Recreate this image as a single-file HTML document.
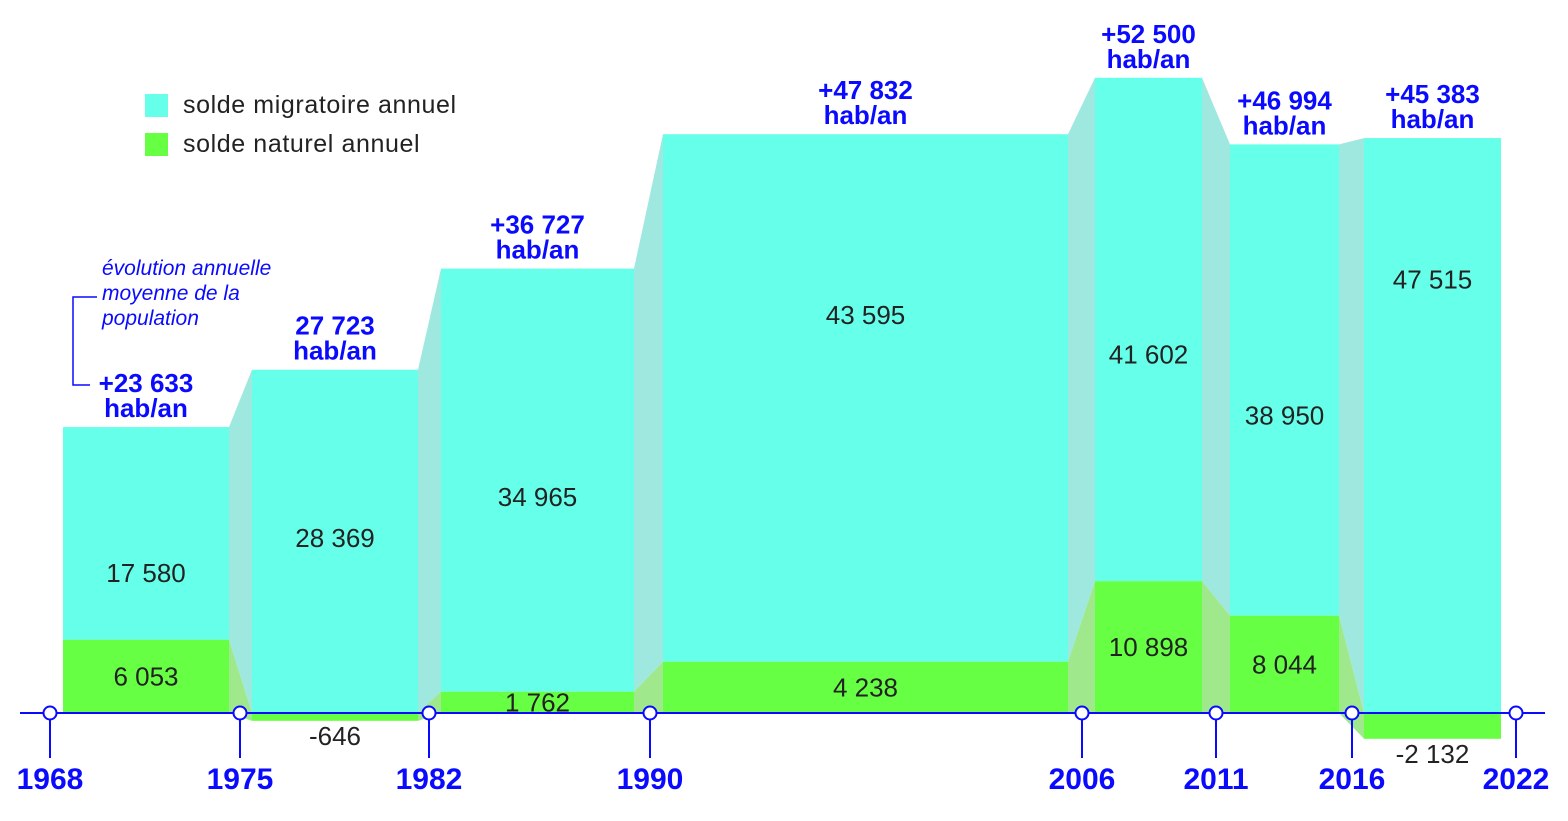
<!DOCTYPE html>
<html><head><meta charset="utf-8"><style>
html,body{margin:0;padding:0;background:#fff;width:1568px;height:821px;overflow:hidden}
svg{display:block;font-family:"Liberation Sans",sans-serif}
</style></head><body>
<svg id="chart" width="1568" height="821">
<g>
<rect x="145" y="94" width="23" height="23" fill="#66ffea"/>
<text x="183" y="113" font-size="25" letter-spacing="0.6" fill="#222">solde migratoire annuel</text>
<rect x="145" y="133" width="23" height="23" fill="#66ff44"/>
<text x="183" y="152" font-size="25" letter-spacing="0.6" fill="#222">solde naturel annuel</text>
</g>
<g fill="#0a0aff" font-size="21" font-style="italic">
<text x="102" y="275">évolution annuelle</text>
<text x="102" y="300">moyenne de la</text>
<text x="102" y="325">population</text>
<path d="M97 297 H73 V385 H90" fill="none" stroke="#0a0aff" stroke-width="1.5"/>
</g>
<g id="marks"></g>
<g id="axis"></g>
</svg>
<script>
const years = [1968, 1975, 1982, 1990, 2006, 2011, 2016, 2022];
const migratoire = [17580, 28369, 34965, 43595, 41602, 38950, 47515];
const naturel = [6053, -646, 1762, 4238, 10898, 8044, -2132];
const totals = ["+23 633", "27 723", "+36 727", "+47 832", "+52 500", "+46 994", "+45 383"];
const migLabels = ["17 580", "28 369", "34 965", "43 595", "41 602", "38 950", "47 515"];
const natLabels = ["6 053", "-646", "1 762", "4 238", "10 898", "8 044", "-2 132"];

const NS = "http://www.w3.org/2000/svg";
const base = 713, k = 0.0121;
const y = v => base - v * k;
const yearX = {1968:50,1975:240,1982:429,1990:650,2006:1082,2011:1216,2016:1352,2022:1516};
const xOf = yr => yearX[yr];
// style: left/right insets from year markers, and vertical label placement within cyan segment
const insetL = [13, 12, 12, 13, 13, 14, 12];
const insetR = [11, 11, 16, 14, 14, 13, 15];
const labelFrac = [0.685, 0.49, 0.54, 0.343, 0.55, 0.575, 0.246];
function el(tag, attrs, parent){const e=document.createElementNS(NS,tag);for(const a in attrs)e.setAttribute(a,attrs[a]);parent.appendChild(e);return e;}
const marks = document.getElementById('marks');
const axis = document.getElementById('axis');
const bars = [];
for (let i=0;i<migratoire.length;i++){
  const x1 = xOf(years[i]) + insetL[i], x2 = xOf(years[i+1]) - insetR[i];
  const n = naturel[i], m = migratoire[i];
  const gTop = y(Math.max(n,0)), gBot = y(Math.min(n,0));
  const cBot = y(Math.max(n,0)), cTop = y(Math.max(n,0)+m);
  bars.push({x1,x2,gTop,gBot,cBot,cTop});
}
for (let i=0;i<bars.length-1;i++){
  const a=bars[i], b=bars[i+1];
  let p=el('polygon',{points:`${a.x2},${a.cTop} ${b.x1},${b.cTop} ${b.x1},${b.cBot} ${a.x2},${a.cBot}`,fill:'#9ee8df'},marks);
  
  
  p=el('polygon',{points:`${a.x2},${a.gTop} ${b.x1},${b.gTop} ${b.x1},${b.gBot} ${a.x2},${a.gBot}`,fill:'#a0e88c'},marks);
  
  
}
bars.forEach((b,i)=>{
  let r=el('rect',{x:b.x1,y:b.cTop,width:b.x2-b.x1,height:b.cBot-b.cTop,fill:'#66ffea'},marks);
  
  
  r=el('rect',{x:b.x1,y:b.gTop,width:b.x2-b.x1,height:b.gBot-b.gTop,fill:'#66ff44'},marks);
  
  
  const cx=(b.x1+b.x2)/2;
  let t=el('text',{x:cx,y:b.cTop+(b.cBot-b.cTop)*labelFrac[i]+9,'text-anchor':'middle','font-size':26,fill:'#222'},marks);
  t.textContent=migLabels[i];
  
  
  const ny = naturel[i]<0 ? b.gBot+24 : (b.gTop+b.gBot)/2+9;
  t=el('text',{x:cx,y:ny,'text-anchor':'middle','font-size':26,fill:'#222'},marks);
  t.textContent=natLabels[i];
  
  
  t=el('text',{x:cx,y:b.cTop-35,'text-anchor':'middle','font-size':26,'font-weight':'bold',fill:'#0a0aff'},marks);
  t.textContent=totals[i];
  
  
  t=el('text',{x:cx,y:b.cTop-10,'text-anchor':'middle','font-size':26,'font-weight':'bold',fill:'#0a0aff'},marks);
  t.textContent='hab/an';
  
  
});
let ln=el('line',{x1:20,y1:base,x2:1545,y2:base,stroke:'#0a0aff','stroke-width':2},axis);


years.forEach(yr=>{
  const x=xOf(yr);
  let l=el('line',{x1:x,y1:base,x2:x,y2:758,stroke:'#0a0aff','stroke-width':2},axis);
  
  
  let c=el('circle',{cx:x,cy:base,r:6.5,fill:'#fff',stroke:'#0a0aff','stroke-width':2},axis);
  
  
  let t=el('text',{x:x,y:789,'text-anchor':'middle','font-size':30,'font-weight':'bold',fill:'#0a0aff'},axis);
  t.textContent=yr;
  
  
});
</script>
</body></html>
